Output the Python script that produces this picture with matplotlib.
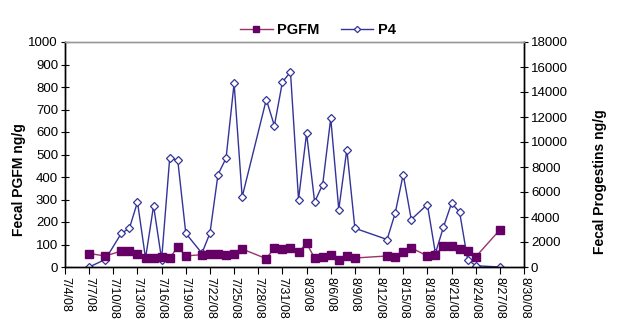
import matplotlib
matplotlib.use("Agg")
import matplotlib.pyplot as plt
import matplotlib.dates as mdates
import pandas as pd

plt.rcParams['font.family'] = ['Liberation Sans', 'DejaVu Sans']

dates = ["2008-07-07", "2008-07-09", "2008-07-11", "2008-07-12", "2008-07-13",
         "2008-07-14", "2008-07-15", "2008-07-16", "2008-07-17", "2008-07-18",
         "2008-07-19", "2008-07-21", "2008-07-22", "2008-07-23", "2008-07-24",
         "2008-07-25", "2008-07-26", "2008-07-29", "2008-07-30", "2008-07-31",
         "2008-08-01", "2008-08-02", "2008-08-03", "2008-08-04", "2008-08-05",
         "2008-08-06", "2008-08-07", "2008-08-08", "2008-08-09", "2008-08-13",
         "2008-08-14", "2008-08-15", "2008-08-16", "2008-08-18", "2008-08-19",
         "2008-08-20", "2008-08-21", "2008-08-22", "2008-08-23", "2008-08-24",
         "2008-08-27"]
pgfm = [60, 49, 71, 69, 60,
        40, 40, 45, 40, 89,
        49, 55, 60, 60, 55,
        60, 80, 37, 85, 80,
        85, 66, 105, 40, 45,
        55, 33, 49, 40, 49,
        45, 66, 85, 49, 55,
        94, 94, 80, 71, 45,
        165]
p4 = [0, 600, 2700, 3100, 5200,
      700, 4900, 600, 8700, 8550,
      2700, 1100, 2700, 7400, 8700,
      14700, 5600, 13400, 11300, 14800,
      15600, 5400, 10700, 5200, 6600,
      11900, 4600, 9400, 3100, 2200,
      4300, 7400, 3800, 5000, 1100,
      3200, 5100, 4400, 600, 100,
      0]

x = pd.to_datetime(dates)
tick_dates = pd.date_range("2008-07-04", "2008-08-30", freq="3D")
tick_labels = [f"{d.month}/{d.day}/08" for d in tick_dates]

fig = plt.figure(figsize=(6.23, 3.23), dpi=100)
ax = fig.add_axes([65/623, 1 - 267/323, 459/623, 225/323])
ax2 = ax.twinx()

l1, = ax.plot(x, pgfm, color='#993366', lw=1, marker='s', ms=5.5,
              mfc='#660066', mec='#660066', label='PGFM', zorder=3)
l2, = ax2.plot(x, p4, color='#333399', lw=1, marker='D', ms=4,
               mfc='white', mec='#333399', mew=0.9, label='P4', zorder=2)

ax.set_zorder(ax2.get_zorder() + 1)
ax.patch.set_visible(False)

ax.set_xlim(pd.Timestamp("2008-07-04"), pd.Timestamp("2008-08-30"))
ax.set_ylim(0, 1000)
ax2.set_ylim(0, 18000)
ax.set_yticks(range(0, 1001, 100))
ax2.set_yticks(range(0, 18001, 2000))
ax.set_xticks(tick_dates)
ax.set_xticklabels(tick_labels, rotation=270, fontsize=9)
ax.tick_params(axis='x', direction='out', length=5, width=0.8, pad=2)
ax.tick_params(axis='y', direction='inout', length=6, width=0.8, labelsize=9.5, pad=2)
ax2.tick_params(axis='y', direction='inout', length=6, width=0.8, labelsize=9.5, pad=2)

for a in (ax, ax2):
    a.spines['top'].set_color('#999999')
    a.spines['top'].set_linewidth(1)
    a.spines['left'].set_linewidth(1)
    a.spines['right'].set_linewidth(1)
    a.spines['bottom'].set_linewidth(1)

ax.set_ylabel('Fecal PGFM ng/g', fontsize=10, fontweight='bold', va='center')
ax2.set_ylabel('Fecal Progestins ng/g', fontsize=10, fontweight='bold', va='center')
ax.yaxis.set_label_coords(-0.100, 0.39)
ax2.yaxis.set_label_coords(1.166, 0.38)

fig.legend(handles=[l1, l2], loc='center', bbox_to_anchor=(318/623, 1 - 30/323),
           ncol=2, frameon=False, prop={'weight': 'bold', 'size': 10.5},
           handlelength=2.2, columnspacing=1.5, handletextpad=0.3, markerscale=0.8)

fig.savefig('out.png', dpi=100)
